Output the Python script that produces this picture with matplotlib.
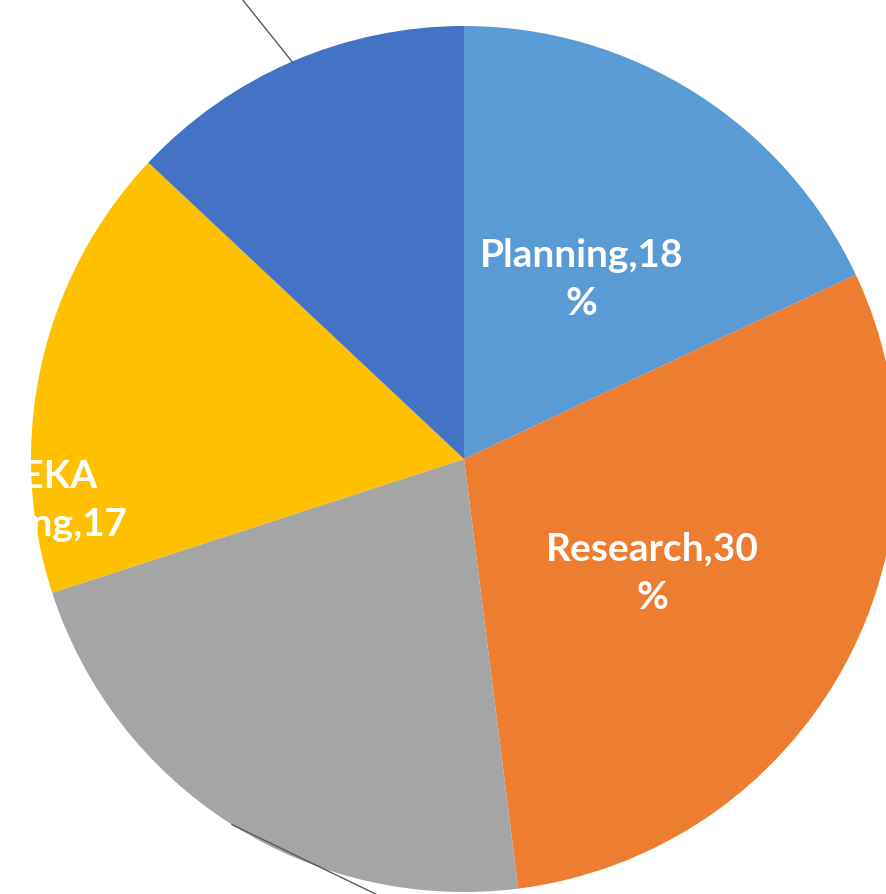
import numpy as np
import matplotlib
matplotlib.use("Agg")
import matplotlib.pyplot as plt

# slice data, clockwise from 12 o'clock
names = ["Planning", "Research", "Design", "EUREKA\nTeaching", "Review"]
shares = [18, 30, 22, 17, 13]
colors = ["#5B9BD5", "#ED7D31", "#A5A5A5", "#FFC000", "#4472C4"]

W, H = 886, 895
R = 433.0          # pie radius in pixels
cx, cy = 464, 460  # pie centre in pixels (from top-left)

fig = plt.figure(figsize=(W / 100, H / 100), dpi=100)
ax = fig.add_axes([0, 0, 1, 1])
ax.axis("off")

ax.pie(shares, colors=colors, startangle=90, counterclock=False, radius=1,
       wedgeprops=dict(linewidth=0))

ax.set_xlim(-cx / R, (W - cx) / R)
ax.set_ylim(-(H - cy) / R, cy / R)
ax.set_aspect("auto")

lab = dict(color="white", fontsize=28, fontweight="bold", family=["Lato", "DejaVu Sans"],
           ha="center", va="center", linespacing=1.45)
ax.text(0.272, 0.416, f"{names[0]},{shares[0]}\n%", **lab)
ax.text(0.436, -0.261, f"{names[1]},{shares[1]}\n%", **lab)
ax.text(-1.02, -0.15, f"{names[3]},{shares[3]}\n%", **lab)

# leader lines for the labels that sit outside the frame
cum = np.cumsum(shares)
mids = (cum - np.array(shares) / 2) / 100.0
for i, d in [(2, (0.60, -0.29)), (4, (-0.12, 0.15))]:
    a = np.pi / 2 - 2 * np.pi * mids[i]
    x0, y0 = np.cos(a), np.sin(a)
    ax.plot([x0, x0 + d[0]], [y0, y0 + d[1]], color="#595959", lw=1.0, zorder=5)

fig.savefig("out.png", dpi=100)
